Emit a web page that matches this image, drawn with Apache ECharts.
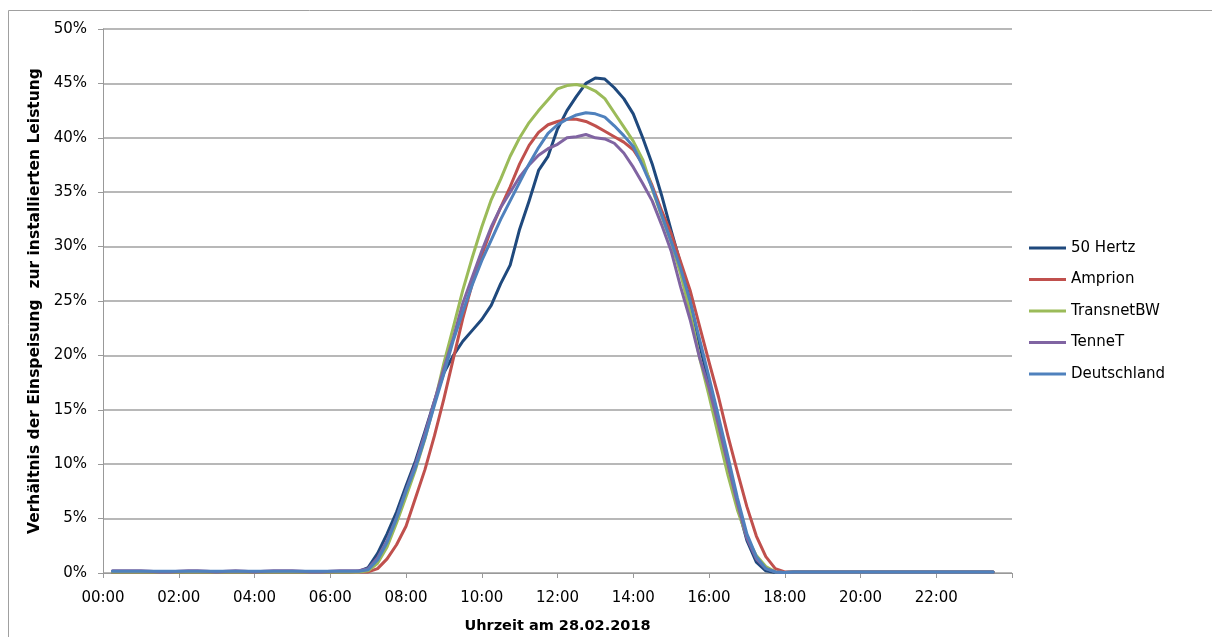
<html>
<head>
<meta charset="UTF-8">
<script src="https://cdn.jsdelivr.net/npm/echarts@6/dist/echarts.min.js"></script>
</head>
<body style="margin:0;background:#fff">
<div id="main" style="width:1212px;height:637px"></div>
<script>
// Einspeisung PV, 28.02.2018, Werte in % der installierten Leistung
// Viertelstundenwerte von 00:15 bis 23:30 (94 Werte)
var names = ['50 Hertz', 'Amprion', 'TransnetBW', 'TenneT', 'Deutschland'];
var colors = ['#1f497d', '#c0504d', '#9bbb59', '#8064a2', '#4f81bd'];

var hz50 = [
  0.1,0.1,0.1,0.1, 0.1,0.1,0.1,0.1, 0.1,0.1,0.1,0.1, 0.1,0.1,0.1,0.1,
  0.1,0.1,0.1,0.1, 0.1,0.1,0.1,0.1, 0.1,0.1,
  0.15,0.5,1.8,3.6,5.6,8.0,10.3,13.0,15.8,18.4,20.0,21.3,22.3,23.3,24.6,26.6,
  28.3,31.6,34.2,37.0,38.3,40.8,42.5,43.8,45.0,45.5,45.4,44.6,43.6,42.2,40.0,37.6,
  34.7,31.5,28.4,25.0,21.0,17.4,13.7,10.0,6.2,3.0,1.0,0.2,0.05,0.05,
  0.1,0.1,0.1,0.1,0.1,0.1,0.1,0.1,0.1,0.1,0.1,0.1,0.1,0.1,0.1,0.1,0.1,0.1,0.1,0.1,0.1,0.1
];
var amprion = [
  0.1,0.1,0.1,0.1, 0.1,0.1,0.1,0.1, 0.1,0.1,0.1,0.1, 0.1,0.1,0.1,0.1,
  0.1,0.1,0.1,0.1, 0.1,0.1,0.1,0.1, 0.1,0.1,
  0.1,0.1,0.4,1.3,2.6,4.3,6.9,9.5,12.6,16.0,19.7,23.4,26.6,29.2,31.6,33.6,
  35.5,37.6,39.3,40.5,41.2,41.5,41.7,41.7,41.5,41.1,40.6,40.1,39.6,38.9,37.6,35.6,
  33.3,31.2,28.6,26.0,22.7,19.4,16.2,12.6,9.3,6.1,3.4,1.5,0.4,0.1,
  0.1,0.1,0.1,0.1,0.1,0.1,0.1,0.1,0.1,0.1,0.1,0.1,0.1,0.1,0.1,0.1,0.1,0.1,0.1,0.1,0.1,0.1
];
var transnet = [
  0.1,0.1,0.1,0.1, 0.1,0.1,0.1,0.1, 0.1,0.1,0.1,0.1, 0.1,0.1,0.1,0.1,
  0.1,0.1,0.1,0.1, 0.1,0.1,0.1,0.1, 0.1,0.1,
  0.1,0.2,0.9,2.4,4.6,7.0,9.5,12.3,15.6,19.3,22.6,26.0,29.0,31.8,34.3,36.2,
  38.3,40.0,41.4,42.5,43.5,44.5,44.8,44.9,44.7,44.3,43.6,42.3,41.0,39.7,38.0,35.3,
  32.8,30.4,27.5,24.0,19.8,16.3,12.6,9.0,5.8,3.3,1.6,0.6,0.1,0.05,
  0.1,0.1,0.1,0.1,0.1,0.1,0.1,0.1,0.1,0.1,0.1,0.1,0.1,0.1,0.1,0.1,0.1,0.1,0.1,0.1,0.1,0.1
];
var tennet = [
  0.2,0.2,0.2,0.2, 0.15,0.1,0.1,0.15, 0.2,0.2,0.15,0.1, 0.15,0.2,0.15,0.1,
  0.15,0.2,0.2,0.2, 0.15,0.1,0.1,0.15, 0.2,0.2,
  0.2,0.4,1.4,3.0,5.1,7.6,10.0,12.8,15.8,18.8,21.6,24.8,27.2,29.6,31.8,33.6,
  35.0,36.4,37.5,38.4,39.0,39.4,40.0,40.1,40.3,40.0,39.9,39.5,38.6,37.3,35.8,34.2,
  32.0,29.6,26.3,23.3,19.8,17.0,13.6,10.0,6.4,3.2,1.3,0.4,0.1,0.05,
  0.1,0.1,0.1,0.1,0.1,0.1,0.1,0.1,0.1,0.1,0.1,0.1,0.1,0.1,0.1,0.1,0.1,0.1,0.1,0.1,0.1,0.1
];
var deutschland = [
  0.15,0.15,0.15,0.15, 0.15,0.15,0.15,0.15, 0.15,0.15,0.15,0.15, 0.15,0.15,0.15,0.15,
  0.15,0.15,0.15,0.15, 0.15,0.15,0.15,0.15, 0.15,0.15,
  0.15,0.3,1.2,2.8,5.0,7.5,9.7,12.4,15.4,18.3,21.4,24.0,26.5,28.7,30.6,32.5,
  34.2,35.9,37.6,39.1,40.4,41.2,41.7,42.1,42.3,42.2,41.9,41.1,40.2,39.2,37.4,35.4,
  32.9,30.5,28.0,25.0,21.5,18.0,14.4,10.7,6.9,3.6,1.5,0.4,0.1,0.05,
  0.1,0.1,0.1,0.1,0.1,0.1,0.1,0.1,0.1,0.1,0.1,0.1,0.1,0.1,0.1,0.1,0.1,0.1,0.1,0.1,0.1,0.1
];
var values = [hz50, amprion, transnet, tennet, deutschland];

// Zeitpunkte in Stunden (00:15 ... 23:30)
var hours = [];
for (var i = 0; i < 94; i++) {
  hours.push(0.25 + i * 0.25);
}

function pad(n) {
  return (n < 10 ? '0' : '') + n;
}

var chart = echarts.init(document.getElementById('main'));

var series = [];
for (var s = 0; s < names.length; s++) {
  series.push({
    name: names[s],
    type: 'line',
    symbol: 'none',
    smooth: false,
    lineStyle: { width: 3, color: colors[s], cap: 'round', join: 'round' },
    itemStyle: { color: colors[s] },
    data: hours.map(function (h, i) { return [h, values[s][i]]; })
  });
}

var labelFont = { fontFamily: 'DejaVu Sans', fontSize: 15, color: '#000' };

var option = {
  animation: false,
  backgroundColor: '#fff',
  textStyle: { fontFamily: 'DejaVu Sans' },
  graphic: [{
    type: 'rect',
    silent: true,
    shape: { x: 8.5, y: 10.5, width: 1300, height: 700 },
    style: { fill: 'none', stroke: '#a0a0a0', lineWidth: 1 }
  }],
  grid: { left: 103, right: 200, top: 29, bottom: 64, outerBoundsMode: 'none' },
  legend: {
    orient: 'vertical',
    left: 1029,
    top: 239,
    padding: 0,
    icon: 'rect',
    itemWidth: 37,
    itemHeight: 3,
    itemGap: 13.5,
    textStyle: { fontFamily: 'DejaVu Sans', fontSize: 15, color: '#000', lineHeight: 18 },
    data: names
  },
  xAxis: {
    type: 'value',
    min: 0,
    max: 24,
    interval: 2,
    name: 'Uhrzeit am 28.02.2018',
    nameLocation: 'middle',
    nameGap: 46,
    nameTextStyle: { fontFamily: 'DejaVu Sans', fontSize: 14.5, fontWeight: 'bold', color: '#000' },
    axisLine: { show: true, lineStyle: { color: '#999', width: 1 } },
    axisTick: { show: true, length: 5, lineStyle: { color: '#999' } },
    splitLine: { show: false },
    axisLabel: Object.assign({
      margin: 18,
      formatter: function (v) { return v >= 24 ? '' : pad(v) + ':00'; }
    }, labelFont)
  },
  yAxis: {
    type: 'value',
    min: 0,
    max: 50,
    interval: 5,
    name: 'Verhältnis der Einspeisung  zur installierten Leistung',
    nameLocation: 'middle',
    nameGap: 60,
    nameTextStyle: { fontFamily: 'DejaVu Sans', fontSize: 15.5, fontWeight: 'bold', color: '#000' },
    axisLine: { show: true, lineStyle: { color: '#999', width: 1 } },
    axisTick: { show: true, length: 5, lineStyle: { color: '#999' } },
    splitLine: { show: true, lineStyle: { color: '#a0a0a0', width: 1.5 } },
    axisLabel: Object.assign({ margin: 16, formatter: '{value}%' }, labelFont)
  },
  series: series
};

chart.setOption(option);
</script>
</body>
</html>
